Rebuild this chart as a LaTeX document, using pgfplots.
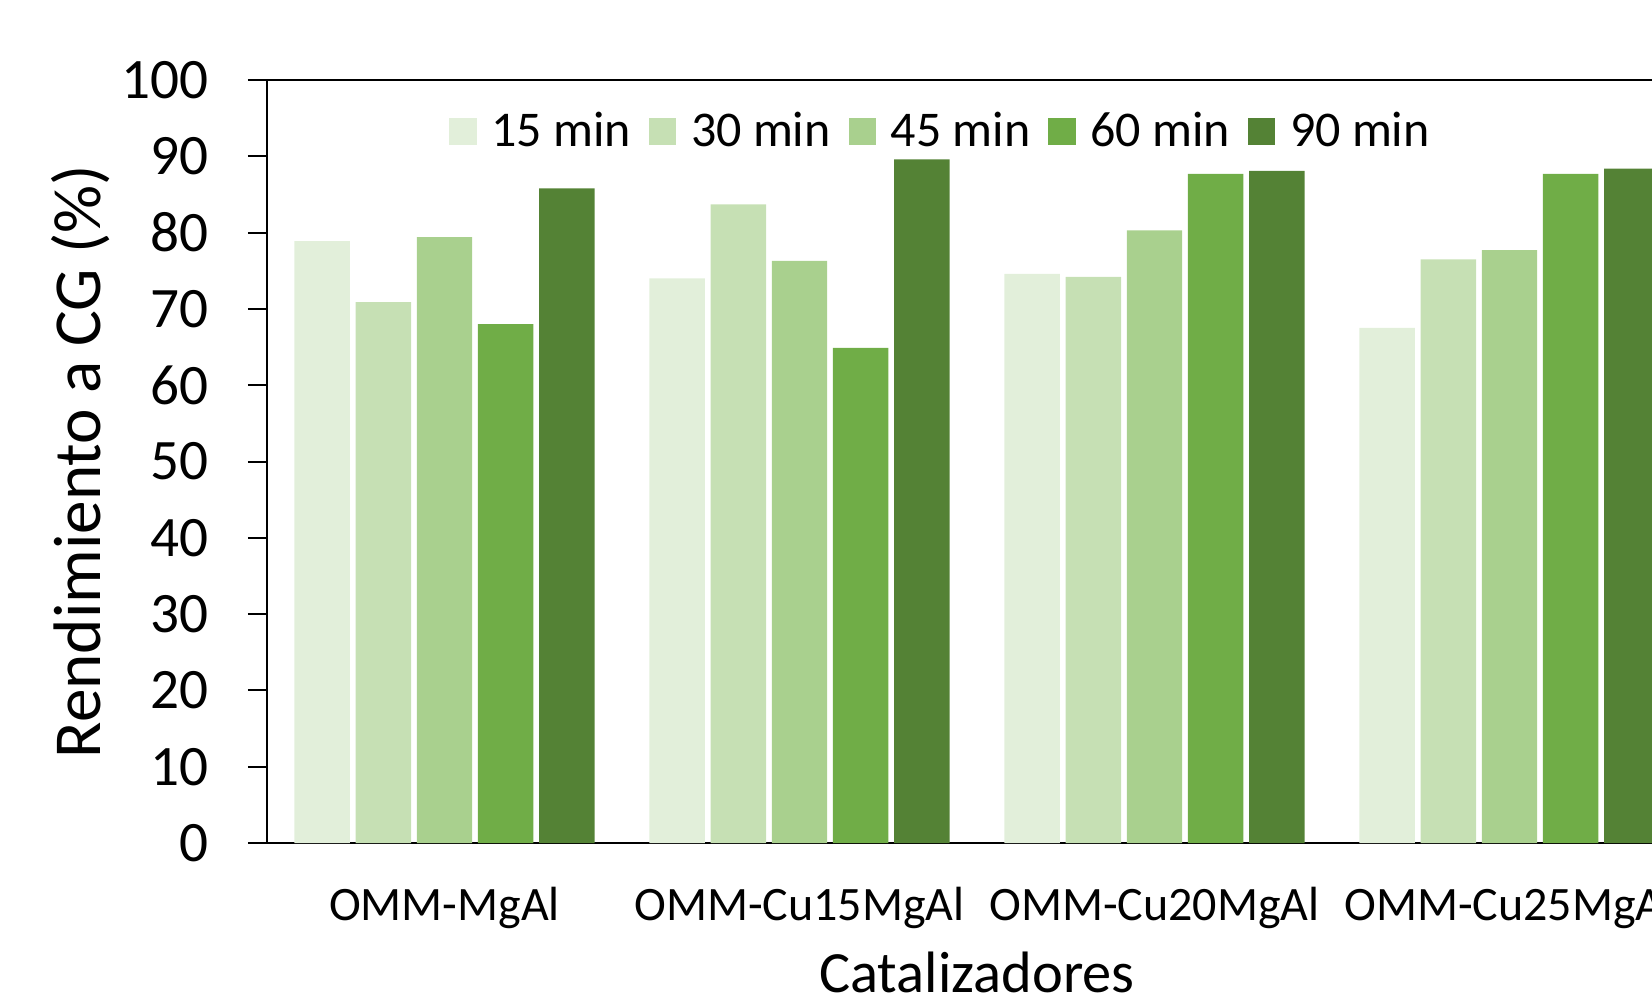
\documentclass[border=0pt]{standalone}
\usepackage{fontspec}
\setmainfont{Carlito}
\usepackage{pgfplots}
\pgfplotsset{compat=1.18}
\definecolor{cA}{HTML}{E2EFDA}
\definecolor{cB}{HTML}{C6E0B4}
\definecolor{cC}{HTML}{A9D08E}
\definecolor{cD}{HTML}{70AD47}
\definecolor{cE}{HTML}{548235}
\begin{document}
\begin{tikzpicture}
\begin{axis}[
  at={(0,0)}, anchor=south west,
  scale only axis, width=355pt, height=190.75pt,
  xmin=-0.5, xmax=3.5, ymin=0, ymax=100,
  xtick={0,1,2,3},
  xticklabels={OMM-MgAl,OMM-Cu15MgAl,OMM-Cu20MgAl,OMM-Cu25MgAl},
  ytick={0,10,...,100},
  /pgf/number format/assume math mode=true,
  tick align=outside, major tick length=4.75pt,
  xtick style={draw=none},
  ytick pos=left,
  axis line style={line width=0.5pt, black},
  y tick style={line width=0.5pt, black},
  yticklabel style={font=\fontsize{14.3}{16}\selectfont, anchor=east, inner sep=0pt, xshift=-9.7pt},
  xticklabel style={font=\fontsize{12}{14}\selectfont, anchor=base, inner sep=0pt, yshift=-14.5pt},
  xlabel={Catalizadores},
  ylabel={Rendimiento a CG (\%)},
  xlabel style={font=\fontsize{14.6}{16}\selectfont, at={(axis description cs:0.5,-0.1953)}, anchor=base, inner sep=0pt},
  ylabel style={font=\fontsize{16.8}{18}\selectfont, at={(axis description cs:-0.1310,0.5)}, anchor=center, inner sep=0pt},
  ybar, bar width=0.1563,
  legend columns=-1,
  legend style={draw=none, fill=none, at={(0.4736,0.932)}, anchor=center,
    font=\fontsize{12.5}{14}\selectfont, inner sep=0pt,
    nodes={inner sep=0pt},
    /tikz/every odd column/.append style={column sep=3.7pt},
    /tikz/every even column/.append style={column sep=4.5pt}},
  legend image code/.code={\path[#1] (0pt,-3.4pt) rectangle (6.8pt,3.4pt);},
]
\addplot[fill=cA, draw=none, bar shift=-0.3448] coordinates {(0,78.9) (1,74.0) (2,74.6) (3,67.5)};
\addplot[fill=cB, draw=none, bar shift=-0.1724] coordinates {(0,70.9) (1,83.7) (2,74.2) (3,76.5)};
\addplot[fill=cC, draw=none, bar shift=0] coordinates {(0,79.4) (1,76.3) (2,80.3) (3,77.7)};
\addplot[fill=cD, draw=none, bar shift=0.1724] coordinates {(0,68.0) (1,64.9) (2,87.7) (3,87.7)};
\addplot[fill=cE, draw=none, bar shift=0.3448] coordinates {(0,85.8) (1,89.6) (2,88.1) (3,88.4)};
\legend{15 min,30 min,45 min,60 min,90 min}
\end{axis}
\pgfresetboundingbox
\useasboundingbox (-66.75pt,-39.5pt) rectangle (346.25pt,210.75pt);
\end{tikzpicture}
\end{document}
